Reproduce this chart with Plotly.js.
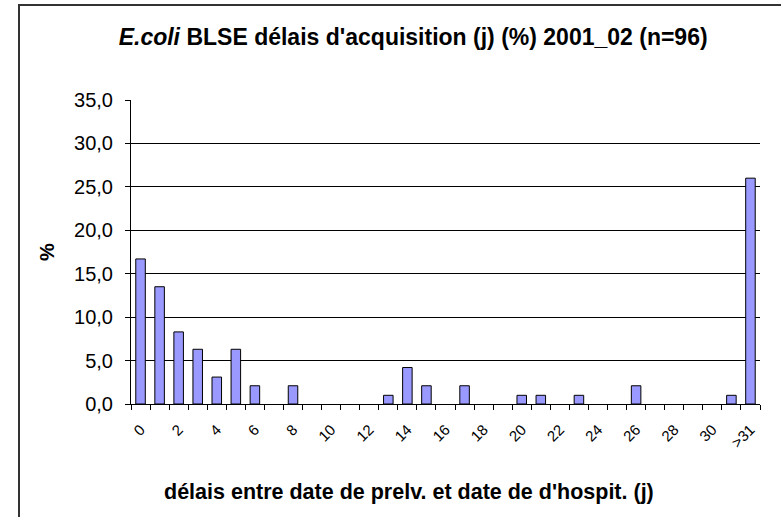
<!DOCTYPE html>
<html>
<head>
<meta charset="utf-8">
<script src="https://cdn.plot.ly/plotly-3.0.1.min.js"></script>
<style>html,body{margin:0;padding:0;background:#fff;}#chart{width:781px;height:517px;}</style>
</head>
<body>
<div id="chart"></div>
<script>
// Categories: delay in days (0..31) and ">31"
const categories = ['0','1','2','3','4','5','6','7','8','9','10','11','12','13','14','15','16','17','18','19','20','21','22','23','24','25','26','27','28','29','30','31','>31'];
// Percentages (%), n=96
const percents = [16.7,13.5,8.3,6.3,3.1,6.3,2.1,0,2.1,0,0,0,0,1.0,4.2,2.1,0,2.1,0,0,1.0,1.0,0,1.0,0,0,2.1,0,0,0,0,1.0,26.0];
// Tick labels shown on the x axis
const tickLabels = ['0','2','4','6','8','10','12','14','16','18','20','22','24','26','28','30','>31'];
const yTicks = [0,5,10,15,20,25,30,35];

const idx = categories.map((c,i)=>i);
const tickPos = tickLabels.map(t => categories.indexOf(t));

const FONT = 'Liberation Sans, Arial, sans-serif';

const trace = {
  type: 'bar',
  x: idx,
  y: percents,
  hovertext: categories,
  hoverinfo: 'text+y',
  width: 0.5,
  marker: {color: '#9999FF', line: {color: '#000000', width: percents.map(v => v > 0 ? 1 : 0)}},
  showlegend: false
};

const layout = {
  width: 781, height: 517,
  margin: {l: 131, r: 21, t: 100, b: 113},
  paper_bgcolor: '#ffffff',
  plot_bgcolor: '#ffffff',
  separators: ', ',
  font: {family: FONT, color: '#000'},
  title: {
    text: '<i>E.coli</i> BLSE délais d\'acquisition (j) (%) 2001_02 (n=96)',
    font: {family: FONT, size: 23, color: '#000', weight: 'bold'},
    xref: 'container', yref: 'container',
    x: 0.529, y: 0.929, xanchor: 'center', yanchor: 'middle'
  },
  xaxis: {
    range: [-0.5, categories.length - 0.5],
    showgrid: false, zeroline: false,
    showline: true, linecolor: '#000', linewidth: 1,
    tickmode: 'array', tickvals: tickPos, ticktext: tickLabels,
    ticks: '', tickangle: -45,
    tickfont: {family: FONT, size: 15, color: '#000'},
    ticklabelstandoff: 10,
    minor: {tick0: 0.5, dtick: 1, ticks: 'outside', ticklen: 5, tickcolor: '#000', tickwidth: 1, showgrid: false},
    fixedrange: true,
    title: {text: ''}
  },
  yaxis: {
    range: [0, 35],
    tickmode: 'array', tickvals: yTicks, tickformat: '.1f',
    showgrid: true, gridcolor: '#000', gridwidth: 1,
    zeroline: false,
    showline: true, linecolor: '#000', linewidth: 1,
    ticks: 'outside', ticklen: 5, tickcolor: '#000',
    tickfont: {family: FONT, size: 20, color: '#000'},
    ticklabelstandoff: 8,
    fixedrange: true,
    title: {text: '%', font: {family: FONT, size: 20, color: '#000', weight: 'bold'}, standoff: 14}
  },
  annotations: [{
    text: 'délais entre date de prelv. et date de d\'hospit. (j)',
    xref: 'paper', yref: 'paper', x: 0.442, y: -0.2895,
    xanchor: 'center', yanchor: 'middle', showarrow: false,
    font: {family: FONT, size: 21.5, color: '#000', weight: 'bold'}
  }],
  shapes: [{
    type: 'rect', xref: 'paper', yref: 'paper',
    x0: -0.17806, x1: 1.3, y0: -0.6, y1: 1.3125,
    line: {color: '#333', width: 2}, fillcolor: 'rgba(0,0,0,0)', layer: 'below'
  }]
};

Plotly.newPlot('chart', [trace], layout, {displayModeBar: false, staticPlot: true});
</script>
</body>
</html>
